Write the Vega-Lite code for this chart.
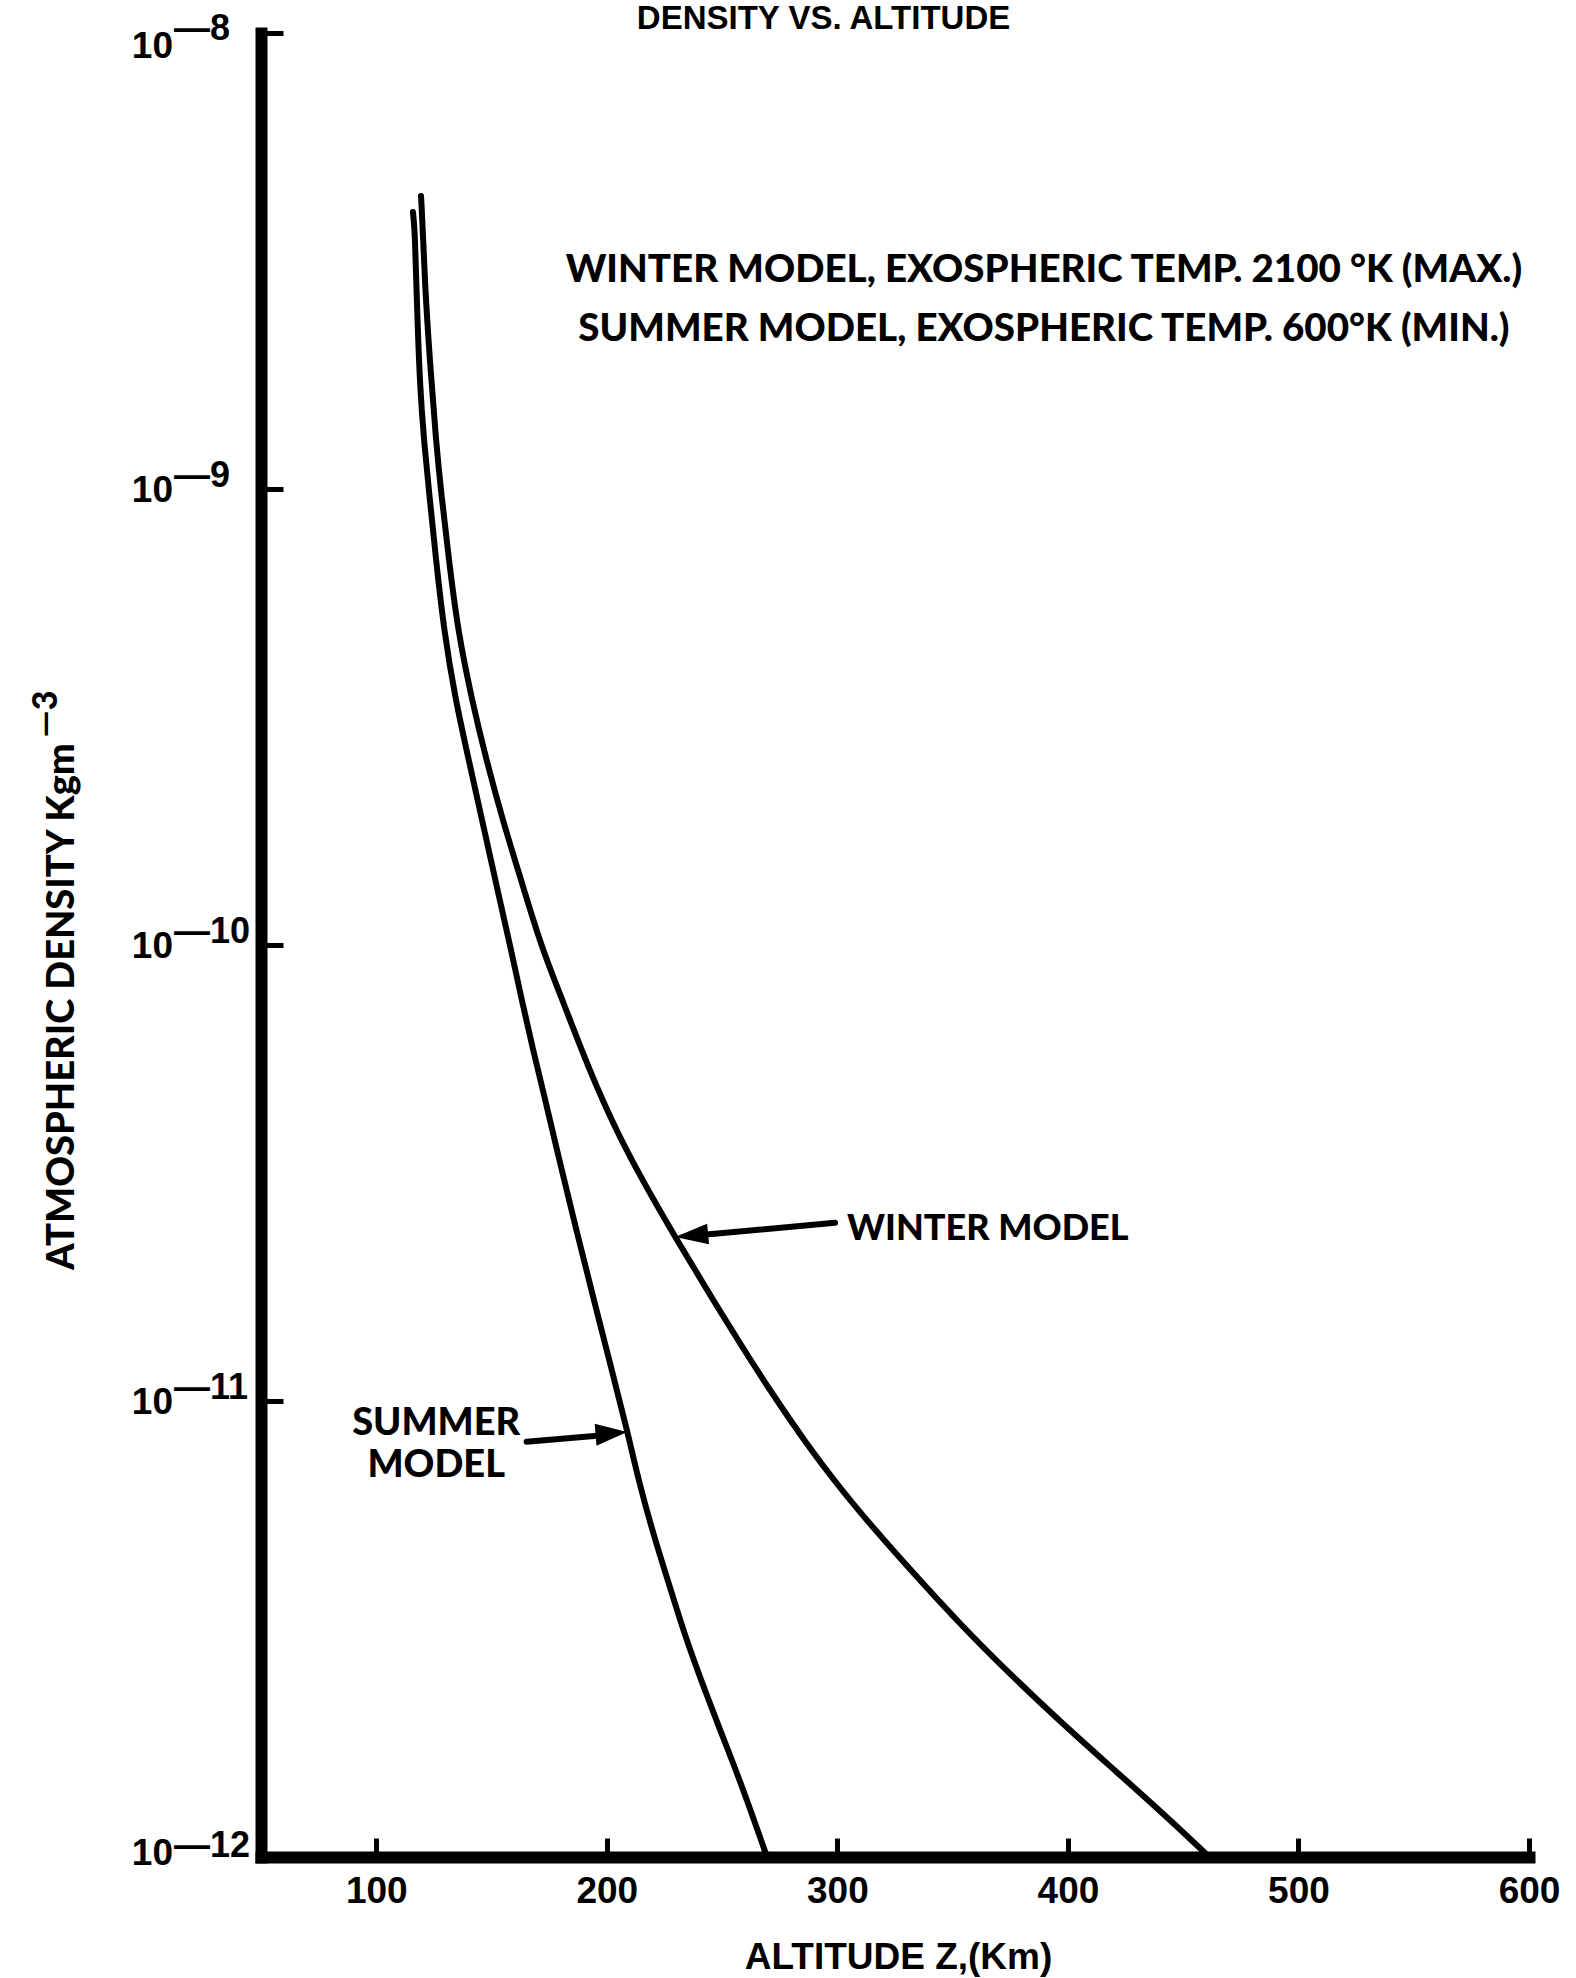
{
  "$schema": "https://vega.github.io/schema/vega-lite/v6.json",
  "width": 1268,
  "height": 1824,
  "autosize": {"type": "none"},
  "padding": {"left": 261, "top": 33, "right": 47, "bottom": 121},
  "background": "white",
  "config": {
    "view": {"stroke": null},
    "axis": {"grid": false, "domainColor": "black", "tickColor": "black", "labelColor": "black", "titleColor": "black", "domainCap": "square"}
  },
  "datasets": {
    "curves": [
      {"model": "Winter", "altitude_km": 119.4, "density": 4.39e-9},
      {"model": "Winter", "altitude_km": 119.8, "density": 4.07e-9},
      {"model": "Winter", "altitude_km": 121.1, "density": 2.80e-9},
      {"model": "Winter", "altitude_km": 123.3, "density": 1.889e-9},
      {"model": "Winter", "altitude_km": 125.9, "density": 1.274e-9},
      {"model": "Winter", "altitude_km": 128.1, "density": 9.85e-10},
      {"model": "Winter", "altitude_km": 131.5, "density": 6.99e-10},
      {"model": "Winter", "altitude_km": 135.4, "density": 4.88e-10},
      {"model": "Winter", "altitude_km": 141.5, "density": 3.445e-10},
      {"model": "Winter", "altitude_km": 147.4, "density": 2.585e-10},
      {"model": "Winter", "altitude_km": 154.8, "density": 1.88e-10},
      {"model": "Winter", "altitude_km": 163.2, "density": 1.368e-10},
      {"model": "Winter", "altitude_km": 171.9, "density": 9.80e-11},
      {"model": "Winter", "altitude_km": 180.8, "density": 7.57e-11},
      {"model": "Winter", "altitude_km": 191.8, "density": 5.40e-11},
      {"model": "Winter", "altitude_km": 205.3, "density": 3.79e-11},
      {"model": "Winter", "altitude_km": 217.9, "density": 2.90e-11},
      {"model": "Winter", "altitude_km": 229.6, "density": 2.29e-11},
      {"model": "Winter", "altitude_km": 243.5, "density": 1.751e-11},
      {"model": "Winter", "altitude_km": 259.5, "density": 1.294e-11},
      {"model": "Winter", "altitude_km": 273.0, "density": 1.015e-11},
      {"model": "Winter", "altitude_km": 286.4, "density": 8.09e-12},
      {"model": "Winter", "altitude_km": 299.4, "density": 6.61e-12},
      {"model": "Winter", "altitude_km": 313.7, "density": 5.40e-12},
      {"model": "Winter", "altitude_km": 332.8, "density": 4.20e-12},
      {"model": "Winter", "altitude_km": 354.5, "density": 3.19e-12},
      {"model": "Winter", "altitude_km": 376.2, "density": 2.48e-12},
      {"model": "Winter", "altitude_km": 397.4, "density": 1.967e-12},
      {"model": "Winter", "altitude_km": 418.7, "density": 1.575e-12},
      {"model": "Winter", "altitude_km": 438.2, "density": 1.287e-12},
      {"model": "Winter", "altitude_km": 458.2, "density": 1.036e-12},
      {"model": "Winter", "altitude_km": 461.2, "density": 1.0e-12},
      {"model": "Summer", "altitude_km": 115.9, "density": 4.05e-9},
      {"model": "Summer", "altitude_km": 116.8, "density": 3.66e-9},
      {"model": "Summer", "altitude_km": 117.7, "density": 2.457e-9},
      {"model": "Summer", "altitude_km": 119.0, "density": 1.657e-9},
      {"model": "Summer", "altitude_km": 120.7, "density": 1.274e-9},
      {"model": "Summer", "altitude_km": 122.9, "density": 9.85e-10},
      {"model": "Summer", "altitude_km": 125.9, "density": 6.99e-10},
      {"model": "Summer", "altitude_km": 129.4, "density": 4.88e-10},
      {"model": "Summer", "altitude_km": 134.1, "density": 3.50e-10},
      {"model": "Summer", "altitude_km": 139.8, "density": 2.585e-10},
      {"model": "Summer", "altitude_km": 145.9, "density": 1.88e-10},
      {"model": "Summer", "altitude_km": 151.9, "density": 1.368e-10},
      {"model": "Summer", "altitude_km": 158.4, "density": 9.80e-11},
      {"model": "Summer", "altitude_km": 163.6, "density": 7.38e-11},
      {"model": "Summer", "altitude_km": 168.0, "density": 5.885e-11},
      {"model": "Summer", "altitude_km": 172.3, "density": 4.81e-11},
      {"model": "Summer", "altitude_km": 180.1, "density": 3.26e-11},
      {"model": "Summer", "altitude_km": 187.1, "density": 2.336e-11},
      {"model": "Summer", "altitude_km": 194.4, "density": 1.665e-11},
      {"model": "Summer", "altitude_km": 201.8, "density": 1.187e-11},
      {"model": "Summer", "altitude_km": 208.8, "density": 8.64e-12},
      {"model": "Summer", "altitude_km": 214.0, "density": 6.61e-12},
      {"model": "Summer", "altitude_km": 220.9, "density": 4.96e-12},
      {"model": "Summer", "altitude_km": 227.4, "density": 3.91e-12},
      {"model": "Summer", "altitude_km": 233.5, "density": 3.10e-12},
      {"model": "Summer", "altitude_km": 241.3, "density": 2.41e-12},
      {"model": "Summer", "altitude_km": 249.1, "density": 1.90e-12},
      {"model": "Summer", "altitude_km": 258.2, "density": 1.453e-12},
      {"model": "Summer", "altitude_km": 269.5, "density": 1.0e-12}
    ],
    "decades": [
      {"density": 1e-8, "exponent": "—8"},
      {"density": 1e-9, "exponent": "—9"},
      {"density": 1e-10, "exponent": "—10"},
      {"density": 1e-11, "exponent": "—11"},
      {"density": 1e-12, "exponent": "—12"}
    ]
  },
  "layer": [
    {
      "data": {"name": "curves"},
      "mark": {"type": "line", "color": "black", "strokeWidth": 6, "interpolate": "basis", "strokeCap": "round"},
      "encoding": {
        "x": {
          "field": "altitude_km", "type": "quantitative",
          "scale": {"domain": [50, 600]},
          "axis": {
            "values": [100, 200, 300, 400, 500, 600],
            "labelFlush": false,
            "domainWidth": 12, "tickWidth": 5, "tickSize": -19,
            "labelFont": "Liberation Sans", "labelFontWeight": "bold", "labelFontSize": 37, "labelPadding": 35,
            "title": "ALTITUDE Z,(Km)",
            "titleFont": "Liberation Sans", "titleFontWeight": "bold", "titleFontSize": 37,
            "titleX": 637, "titleY": 111, "titleAlign": "center", "titleBaseline": "alphabetic"
          }
        },
        "y": {
          "field": "density", "type": "quantitative",
          "scale": {"type": "log", "domain": [1e-12, 1e-8]},
          "axis": {
            "values": [1e-12, 1e-11, 1e-10, 1e-9, 1e-8],
            "labels": false,
            "domainWidth": 12, "tickWidth": 5, "tickSize": -22,
            "title": "ATMOSPHERIC DENSITY Kgm",
            "titleFont": "Lato", "titleFontWeight": 900, "titleFontSize": 38,
            "titleAngle": 270, "titleX": -188, "titleY": 973,
            "titleAlign": "center", "titleBaseline": "alphabetic"
          }
        },
        "detail": {"field": "model"}
      }
    },
    {
      "data": {"name": "decades"},
      "transform": [{"filter": "datum.density < 5e-9 && datum.density > 5e-12"}],
      "mark": {"type": "text", "text": "10", "align": "right", "baseline": "middle", "dx": -88, "dy": 2, "font": "Liberation Sans", "fontWeight": "bold", "fontSize": 37, "color": "black"},
      "encoding": {
        "x": {"datum": 50, "type": "quantitative", "scale": {"domain": [50, 600]}},
        "y": {"field": "density", "type": "quantitative", "scale": {"type": "log", "domain": [1e-12, 1e-8]}}
      }
    },
    {
      "data": {"name": "decades"},
      "transform": [{"filter": "datum.density > 5e-9"}],
      "mark": {"type": "text", "text": "10", "align": "right", "baseline": "middle", "dx": -88, "dy": 14, "font": "Liberation Sans", "fontWeight": "bold", "fontSize": 37, "color": "black"},
      "encoding": {
        "x": {"datum": 50, "type": "quantitative", "scale": {"domain": [50, 600]}},
        "y": {"field": "density", "type": "quantitative", "scale": {"type": "log", "domain": [1e-12, 1e-8]}}
      }
    },
    {
      "data": {"name": "decades"},
      "transform": [{"filter": "datum.density < 5e-12"}],
      "mark": {"type": "text", "text": "10", "align": "right", "baseline": "middle", "dx": -88, "dy": -3, "font": "Liberation Sans", "fontWeight": "bold", "fontSize": 37, "color": "black"},
      "encoding": {
        "x": {"datum": 50, "type": "quantitative", "scale": {"domain": [50, 600]}},
        "y": {"field": "density", "type": "quantitative", "scale": {"type": "log", "domain": [1e-12, 1e-8]}}
      }
    },
    {
      "data": {"name": "decades"},
      "transform": [{"filter": "datum.density < 5e-9 && datum.density > 5e-12"}],
      "mark": {"type": "text", "align": "left", "baseline": "middle", "dx": -87, "dy": -13, "font": "Liberation Sans", "fontWeight": "bold", "fontSize": 36, "color": "black"},
      "encoding": {
        "x": {"datum": 50, "type": "quantitative", "scale": {"domain": [50, 600]}},
        "y": {"field": "density", "type": "quantitative", "scale": {"type": "log", "domain": [1e-12, 1e-8]}},
        "text": {"field": "exponent"}
      }
    },
    {
      "data": {"name": "decades"},
      "transform": [{"filter": "datum.density > 5e-9"}],
      "mark": {"type": "text", "align": "left", "baseline": "middle", "dx": -87, "dy": -4, "font": "Liberation Sans", "fontWeight": "bold", "fontSize": 36, "color": "black"},
      "encoding": {
        "x": {"datum": 50, "type": "quantitative", "scale": {"domain": [50, 600]}},
        "y": {"field": "density", "type": "quantitative", "scale": {"type": "log", "domain": [1e-12, 1e-8]}},
        "text": {"field": "exponent"}
      }
    },
    {
      "data": {"name": "decades"},
      "transform": [{"filter": "datum.density < 5e-12"}],
      "mark": {"type": "text", "align": "left", "baseline": "middle", "dx": -87, "dy": -11, "font": "Liberation Sans", "fontWeight": "bold", "fontSize": 36, "color": "black"},
      "encoding": {
        "x": {"datum": 50, "type": "quantitative", "scale": {"domain": [50, 600]}},
        "y": {"field": "density", "type": "quantitative", "scale": {"type": "log", "domain": [1e-12, 1e-8]}},
        "text": {"field": "exponent"}
      }
    },
    {
      "data": {"values": [{}]},
      "mark": {"type": "text", "text": "—3", "angle": 270, "align": "center", "baseline": "alphabetic", "font": "Lato", "fontWeight": 900, "fontSize": 34, "color": "black"},
      "encoding": {
        "x": {"datum": -38.5, "type": "quantitative", "scale": {"domain": [50, 600]}},
        "y": {"datum": 3.21e-10, "type": "quantitative", "scale": {"type": "log", "domain": [1e-12, 1e-8]}}
      }
    },
    {
      "data": {"values": [{}]},
      "mark": {"type": "text", "text": "DENSITY VS. ALTITUDE", "align": "center", "baseline": "alphabetic", "dy": -4, "font": "Liberation Sans", "fontWeight": "bold", "fontSize": 33, "color": "black"},
      "encoding": {
        "x": {"datum": 294, "type": "quantitative", "scale": {"domain": [50, 600]}},
        "y": {"datum": 1e-8, "type": "quantitative", "scale": {"type": "log", "domain": [1e-12, 1e-8]}}
      }
    },
    {
      "data": {"values": [{}]},
      "mark": {"type": "text", "text": "WINTER MODEL, EXOSPHERIC TEMP. 2100 °K (MAX.)", "align": "center", "baseline": "alphabetic", "font": "Lato", "fontWeight": 900, "fontSize": 38.5, "color": "black"},
      "encoding": {
        "x": {"datum": 389.6, "type": "quantitative", "scale": {"domain": [50, 600]}},
        "y": {"datum": 2.85e-9, "type": "quantitative", "scale": {"type": "log", "domain": [1e-12, 1e-8]}}
      }
    },
    {
      "data": {"values": [{}]},
      "mark": {"type": "text", "text": "SUMMER MODEL, EXOSPHERIC TEMP. 600°K (MIN.)", "align": "center", "baseline": "alphabetic", "font": "Lato", "fontWeight": 900, "fontSize": 38.5, "color": "black"},
      "encoding": {
        "x": {"datum": 389.6, "type": "quantitative", "scale": {"domain": [50, 600]}},
        "y": {"datum": 2.11e-9, "type": "quantitative", "scale": {"type": "log", "domain": [1e-12, 1e-8]}}
      }
    },
    {
      "data": {"values": [{}]},
      "mark": {"type": "text", "text": "WINTER MODEL", "align": "left", "baseline": "alphabetic", "font": "Lato", "fontWeight": 900, "fontSize": 36, "color": "black"},
      "encoding": {
        "x": {"datum": 304.2, "type": "quantitative", "scale": {"domain": [50, 600]}},
        "y": {"datum": 2.25e-11, "type": "quantitative", "scale": {"type": "log", "domain": [1e-12, 1e-8]}}
      }
    },
    {
      "data": {"values": [{}]},
      "mark": {"type": "text", "text": "SUMMER", "align": "center", "baseline": "alphabetic", "font": "Lato", "fontWeight": 900, "fontSize": 38, "color": "black"},
      "encoding": {
        "x": {"datum": 126, "type": "quantitative", "scale": {"domain": [50, 600]}},
        "y": {"datum": 8.42e-12, "type": "quantitative", "scale": {"type": "log", "domain": [1e-12, 1e-8]}}
      }
    },
    {
      "data": {"values": [{}]},
      "mark": {"type": "text", "text": "MODEL", "align": "center", "baseline": "alphabetic", "font": "Lato", "fontWeight": 900, "fontSize": 38, "color": "black"},
      "encoding": {
        "x": {"datum": 126, "type": "quantitative", "scale": {"domain": [50, 600]}},
        "y": {"datum": 6.81e-12, "type": "quantitative", "scale": {"type": "log", "domain": [1e-12, 1e-8]}}
      }
    },
    {
      "data": {"values": [{}]},
      "mark": {"type": "rule", "color": "black", "strokeWidth": 6, "strokeCap": "round"},
      "encoding": {
        "x": {"datum": 299.0, "type": "quantitative", "scale": {"domain": [50, 600]}},
        "y": {"datum": 2.46e-11, "type": "quantitative", "scale": {"type": "log", "domain": [1e-12, 1e-8]}},
        "x2": {"datum": 236.1},
        "y2": {"datum": 2.30e-11}
      }
    },
    {
      "data": {"values": [{}]},
      "mark": {"type": "rule", "color": "black", "strokeWidth": 6, "strokeCap": "round"},
      "encoding": {
        "x": {"datum": 165.2, "type": "quantitative", "scale": {"domain": [50, 600]}},
        "y": {"datum": 8.14e-12, "type": "quantitative", "scale": {"type": "log", "domain": [1e-12, 1e-8]}},
        "x2": {"datum": 202.2},
        "y2": {"datum": 8.44e-12}
      }
    },
    {
      "data": {"values": [{}]},
      "mark": {"type": "point", "shape": "M0,0L2,-0.62L2,0.62Z", "filled": true, "size": 1100, "angle": 354.8, "color": "black", "opacity": 1, "strokeWidth": 0},
      "encoding": {
        "x": {"datum": 229.6, "type": "quantitative", "scale": {"domain": [50, 600]}},
        "y": {"datum": 2.29e-11, "type": "quantitative", "scale": {"type": "log", "domain": [1e-12, 1e-8]}}
      }
    },
    {
      "data": {"values": [{}]},
      "mark": {"type": "point", "shape": "M0,0L2,-0.7L2,0.7Z", "filled": true, "size": 1000, "angle": 175.2, "color": "black", "opacity": 1, "strokeWidth": 0},
      "encoding": {
        "x": {"datum": 208.8, "type": "quantitative", "scale": {"domain": [50, 600]}},
        "y": {"datum": 8.55e-12, "type": "quantitative", "scale": {"type": "log", "domain": [1e-12, 1e-8]}}
      }
    }
  ]
}
